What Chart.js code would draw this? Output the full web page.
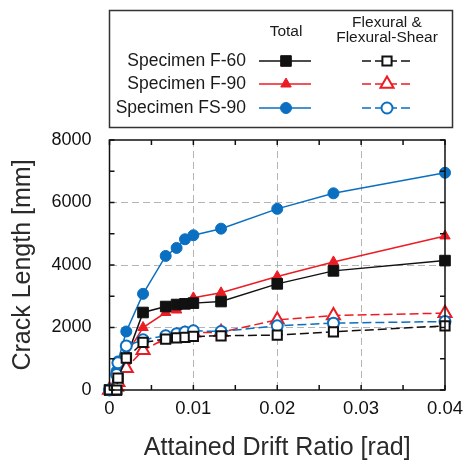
<!DOCTYPE html>
<html>
<head>
<meta charset="utf-8">
<script src="https://cdn.jsdelivr.net/npm/chart.js@4.4.1/dist/chart.umd.min.js"></script>
<style>
  html, body { margin: 0; padding: 0; background: #fff; }
  #wrap { width: 471px; height: 463px; position: relative; }
</style>
</head>
<body>
<div id="wrap"><canvas id="chart_crack"></canvas></div>
<script>
// drift ratio steps (rad)
const drift = [0, 0.00085, 0.001, 0.002, 0.004, 0.0067, 0.008, 0.009, 0.01, 0.0133, 0.02, 0.0267, 0.04];

// crack length [mm], total
const f60_total  = [0, 0, 383, 1022, 2480, 2671, 2735, 2757, 2780, 2831, 3396, 3812, 4141];
const f90_total  = [0, 200, 450, 1130, 2000, 2480, 2560, 2700, 2950, 3110, 3630, 4099, 4930];
const fs90_total = [0, 600, 914, 1872, 3077, 4290, 4546, 4824, 4952, 5163, 5797, 6294, 6952];

// crack length [mm], flexural & flexural-shear
const f60_flex  = [0, 0, 383, 1022, 1521, 1629, 1671, 1681, 1713, 1735, 1757, 1862, 2054];
const f90_flex  = [0, 100, 250, 700, 1270, 1650, 1720, 1780, 1830, 1850, 2246, 2384, 2460];
const fs90_flex = [0, 500, 870, 1410, 1607, 1735, 1799, 1853, 1895, 1872, 2054, 2140, 2192];

const specimens = ["Specimen F-60", "Specimen F-90", "Specimen FS-90"];
const xTicks = [0, 0.01, 0.02, 0.03, 0.04];
const yTicks = [0, 2000, 4000, 6000, 8000];

const black = "#111111";
const red = "#ec1c24";
const blue = "#0a6fc0";
const fontFam = "'Liberation Sans', Arial, sans-serif";

function pts(ys) {
    return ys.map((y, i) => ({ x: drift[i], y: y }));
}

function totalSet(label, ys, color, style, r) {
    return {
        label: label, data: pts(ys), borderColor: color, backgroundColor: color,
        borderWidth: 1.5, pointStyle: style, pointRadius: r, pointBorderWidth: 1,
        pointBackgroundColor: color, pointBorderColor: color, clip: false
    };
}

function flexSet(label, ys, color, style, r) {
    return {
        label: label, data: pts(ys), borderColor: color, backgroundColor: "#fff",
        borderWidth: 1.5, borderDash: [9, 4], pointStyle: style, pointRadius: r,
        pointBorderWidth: 2, pointBackgroundColor: "#fff", pointBorderColor: color, clip: false
    };
}

// small marker helper for the legend
function marker(ctx, style, x, y, r, color, filled) {
    ctx.save();
    ctx.setLineDash([]);
    ctx.lineWidth = filled ? 1 : 2;
    ctx.strokeStyle = color;
    ctx.fillStyle = filled ? color : "#fff";
    ctx.beginPath();
    if (style === "rect") {
        const s = r * Math.SQRT1_2;
        ctx.rect(x - s, y - s, 2 * s, 2 * s);
    } else if (style === "triangle") {
        const h = r * 1.5;
        ctx.moveTo(x, y - r);
        ctx.lineTo(x + h * 0.58, y + r * 0.5);
        ctx.lineTo(x - h * 0.58, y + r * 0.5);
        ctx.closePath();
    } else {
        ctx.arc(x, y, r, 0, Math.PI * 2);
    }
    ctx.fill();
    ctx.stroke();
    ctx.restore();
}

// frame, inward ticks and the two-column legend box
const framePlugin = {
    id: "frame",
    afterDraw(chart) {
        const ctx = chart.ctx;
        const a = chart.chartArea;
        const xs = chart.scales.x, ys = chart.scales.y;
        ctx.save();
        ctx.strokeStyle = "#111";
        ctx.lineWidth = 1.5;
        ctx.strokeRect(a.left, a.top, a.right - a.left, a.bottom - a.top);
        ctx.beginPath();
        for (let v = 0; v <= 0.04001; v += 0.005) {
            const px = xs.getPixelForValue(v);
            ctx.moveTo(px, a.bottom); ctx.lineTo(px, a.bottom - 5);
            ctx.moveTo(px, a.top); ctx.lineTo(px, a.top + 5);
        }
        for (let v = 0; v <= 8000; v += 1000) {
            const py = ys.getPixelForValue(v);
            ctx.moveTo(a.left, py); ctx.lineTo(a.left + 5, py);
            ctx.moveTo(a.right, py); ctx.lineTo(a.right - 5, py);
        }
        ctx.stroke();

        // legend
        ctx.lineWidth = 1.5;
        ctx.strokeStyle = "#333";
        ctx.strokeRect(109.5, 10.5, 343, 117);
        ctx.fillStyle = "#1a1a1a";
        ctx.textBaseline = "middle";
        ctx.textAlign = "center";
        ctx.font = "15.5px " + fontFam;
        ctx.fillText("Total", 286, 32);
        ctx.fillText("Flexural &", 387, 23);
        ctx.fillText("Flexural-Shear", 387, 38);
        ctx.textAlign = "right";
        ctx.font = "17.5px " + fontFam;
        const rows = [61, 84, 108];
        const cols = [black, red, blue];
        const styles = ["rect", "triangle", "circle"];
        const radT = [7.5, 6, 5.5];
        const radF = [6.5, 7.5, 5.5];
        for (let i = 0; i < 3; i++) {
            const y = rows[i];
            ctx.fillStyle = "#1a1a1a";
            ctx.fillText(specimens[i], 246, y);
            ctx.strokeStyle = cols[i];
            ctx.setLineDash([]);
            ctx.beginPath(); ctx.moveTo(259, y); ctx.lineTo(311, y); ctx.stroke();
            marker(ctx, styles[i], 286, y, radT[i], cols[i], true);
            ctx.strokeStyle = cols[i];
            ctx.setLineDash([9, 4]);
            ctx.beginPath(); ctx.moveTo(362, y); ctx.lineTo(414, y); ctx.stroke();
            marker(ctx, styles[i], 387, y, radF[i], cols[i], false);
        }
        ctx.restore();
    }
};

new Chart(document.getElementById("chart_crack"), {
    type: "line",
    data: {
        datasets: [
            flexSet("Specimen F-60 flexural", f60_flex, black, "rect", 6.5),
            flexSet("Specimen FS-90 flexural", fs90_flex, blue, "circle", 5.5),
            flexSet("Specimen F-90 flexural", f90_flex, red, "triangle", 7.5),
            totalSet("Specimen F-60", f60_total, black, "rect", 7.5),
            totalSet("Specimen F-90", f90_total, red, "triangle", 6),
            totalSet("Specimen FS-90", fs90_total, blue, "circle", 5.5)
        ]
    },
    options: {
        responsive: true,
        maintainAspectRatio: false,
        animation: false,
        layout: { padding: { top: 140, right: 18, left: 0, bottom: 0 } },
        plugins: { legend: { display: false }, tooltip: { enabled: false } },
        scales: {
            x: {
                type: "linear",
                min: 0, max: 0.04,
                afterFit: (s) => { s.height = 73; },
                afterBuildTicks: (s) => { s.ticks = xTicks.map(v => ({ value: v })); },
                ticks: {
                    autoSkip: false, maxRotation: 0, padding: 8, color: "#111",
                    font: { family: fontFam, size: 18.5 },
                    callback: (v) => String(Math.round(v * 100) / 100)
                },
                grid: {
                    drawTicks: false,
                    color: (c) => (c.tick && c.tick.value > 0 && c.tick.value < 0.04) ? "#b4b4b4" : "rgba(0,0,0,0)",
                    lineWidth: 1
                },
                border: { display: false, dash: [7, 4] },
                title: {
                    display: true, text: "Attained Drift Ratio [rad]", color: "#2a2a2a",
                    font: { family: fontFam, size: 25 }, padding: { top: 0, bottom: 0 }
                }
            },
            y: {
                min: 0, max: 8000,
                afterFit: (s) => { s.width = 109.5; },
                afterBuildTicks: (s) => { s.ticks = yTicks.map(v => ({ value: v })); },
                ticks: {
                    padding: 18, color: "#111",
                    font: { family: fontFam, size: 18 },
                    callback: (v) => String(v)
                },
                grid: {
                    drawTicks: false,
                    color: (c) => (c.tick && c.tick.value > 0 && c.tick.value < 8000) ? "#b4b4b4" : "rgba(0,0,0,0)",
                    lineWidth: 1
                },
                border: { display: false, dash: [7, 4] },
                title: {
                    display: true, text: "Crack Length [mm]", color: "#2a2a2a",
                    font: { family: fontFam, size: 25 }, padding: { top: 8, bottom: 0 }
                }
            }
        }
    },
    plugins: [framePlugin]
});
</script>
</body>
</html>
